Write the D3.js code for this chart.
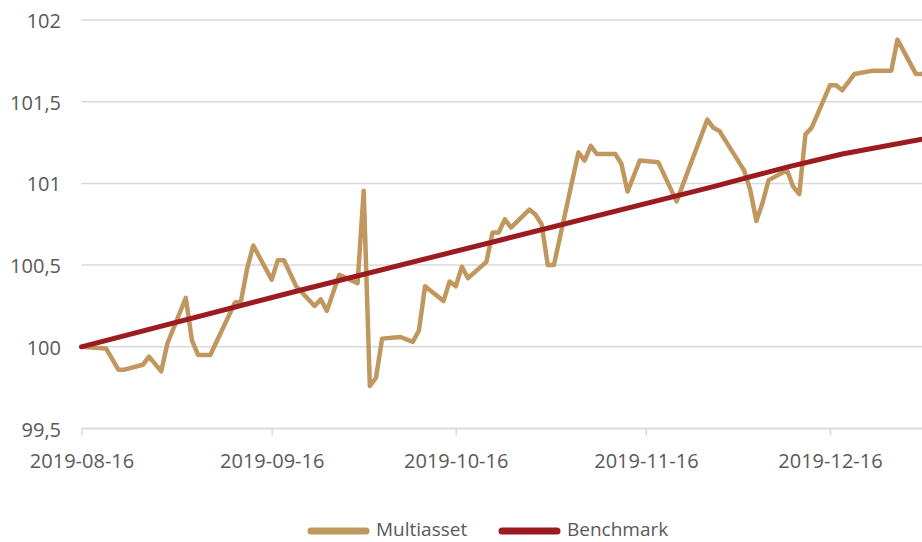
<!DOCTYPE html>
<html>
<head>
<meta charset="utf-8">
<script src="https://cdn.jsdelivr.net/npm/d3@7"></script>
<style>
    body { margin: 0; background: #fff; }
    svg { display: block; font-family: "Open Sans", sans-serif; }
</style>
</head>
<body>
<svg id="chart" width="922" height="542"></svg>
<script>
// data

let multiDates = ["2019-08-16", "2019-08-20", "2019-08-22", "2019-08-23", "2019-08-26", "2019-08-27",
    "2019-08-29", "2019-08-30", "2019-09-02", "2019-09-03", "2019-09-04", "2019-09-06", "2019-09-10",
    "2019-09-11", "2019-09-12", "2019-09-13", "2019-09-16", "2019-09-17", "2019-09-18", "2019-09-20",
    "2019-09-23", "2019-09-24", "2019-09-25", "2019-09-26", "2019-09-27", "2019-09-30", "2019-10-01",
    "2019-10-02", "2019-10-03", "2019-10-04", "2019-10-07", "2019-10-09", "2019-10-10", "2019-10-11",
    "2019-10-14", "2019-10-15", "2019-10-16", "2019-10-17", "2019-10-18", "2019-10-21", "2019-10-22",
    "2019-10-23", "2019-10-24", "2019-10-25", "2019-10-28", "2019-10-29", "2019-10-30", "2019-10-31",
    "2019-11-01", "2019-11-05", "2019-11-06", "2019-11-07", "2019-11-08", "2019-11-11", "2019-11-12",
    "2019-11-13", "2019-11-15", "2019-11-18", "2019-11-21", "2019-11-26", "2019-11-27", "2019-11-28",
    "2019-12-02", "2019-12-03", "2019-12-04", "2019-12-05", "2019-12-06", "2019-12-09", "2019-12-10",
    "2019-12-11", "2019-12-12", "2019-12-13", "2019-12-16", "2019-12-17", "2019-12-18", "2019-12-20",
    "2019-12-23", "2019-12-26", "2019-12-27", "2019-12-30", "2019-12-31"];

let multiValues = [100.00, 99.99, 99.86, 99.86, 99.89, 99.94,
    99.85, 100.02, 100.30, 100.04, 99.95, 99.95, 100.27,
    100.28, 100.48, 100.62, 100.41, 100.53, 100.53, 100.37,
    100.25, 100.29, 100.22, 100.33, 100.44, 100.39, 100.955,
    99.76, 99.81, 100.05, 100.06, 100.03, 100.10, 100.37,
    100.28, 100.40, 100.37, 100.49, 100.42, 100.52, 100.70,
    100.70, 100.78, 100.73, 100.84, 100.81, 100.75, 100.50,
    100.50, 101.19, 101.14, 101.23, 101.18, 101.18, 101.12,
    100.95, 101.14, 101.13, 100.89, 101.39, 101.34, 101.32,
    101.08, 100.96, 100.77, 100.88, 101.02, 101.08, 100.98,
    100.935, 101.30, 101.34, 101.60, 101.60, 101.57, 101.67,
    101.69, 101.69, 101.88, 101.67, 101.67];

let benchDates = ["2019-08-16", "2019-09-20", "2019-10-24", "2019-11-27", "2019-12-09", "2019-12-18", "2019-12-31"];
let benchValues = [100.00, 100.34, 100.66, 100.98, 101.10, 101.18, 101.27];

let yTicks = [99.5, 100, 100.5, 101, 101.5, 102];
let xTicks = ["2019-08-16", "2019-09-16", "2019-10-16", "2019-11-16", "2019-12-16"];

let seriesNames = ["Multiasset", "Benchmark"];
let seriesColors = ["#bf975f", "#9c1b21"];

// layout

let parseDate = d3.timeParse("%Y-%m-%d");
let svg = d3.select("#chart");
let plot = { left: 81.5, right: 922, top: 20, bottom: 428.5 };

let x = d3.scaleTime()
          .domain([parseDate("2019-08-16"), parseDate("2019-12-31")])
          .range([plot.left, plot.right]);

let y = d3.scaleLinear()
          .domain([99.5, 102])
          .range([plot.bottom, plot.top]);

let fmt = d => d3.format("")(d).replace(".", ",");

function drawGrid() {
    let grid = svg.append("g");

    grid.selectAll("line")
        .data(yTicks)
        .enter()
        .append("line")
        .attr("x1", plot.left)
        .attr("x2", plot.right)
        .attr("y1", d => y(d))
        .attr("y2", d => y(d))
        .style("stroke", "#d9d9d9")
        .style("stroke-width", 1.5);

    svg.append("g")
       .selectAll("text")
       .data(yTicks)
       .enter()
       .append("text")
       .attr("x", 61)
       .attr("y", d => y(d) + 8)
       .attr("text-anchor", "end")
       .style("font-size", "20px")
       .style("fill", "#595959")
       .text(fmt);
}

function drawXAxis() {
    let axis = svg.append("g")
                  .attr("transform", "translate(0," + plot.bottom + ")")
                  .call(d3.axisBottom(x)
                          .tickValues(xTicks.map(parseDate))
                          .tickSize(7)
                          .tickPadding(18)
                          .tickFormat(d3.timeFormat("%Y-%m-%d")));

    axis.select(".domain")
        .attr("d", "M" + plot.left + ",0H" + plot.right)
        .style("stroke", "#d9d9d9")
        .style("stroke-width", 1.5);
    axis.selectAll(".tick line")
        .style("stroke", "#d9d9d9")
        .style("stroke-width", 1.5);
    axis.selectAll(".tick text")
        .style("font-size", "20px")
        .style("font-family", "'Open Sans', sans-serif")
        .style("fill", "#595959");
}

function drawLine(dates, values, color, width) {
    let points = dates.map((d, i) => [parseDate(d), values[i]]);
    let line = d3.line()
                 .x(d => x(d[0]))
                 .y(d => y(d[1]));

    svg.append("path")
       .datum(points)
       .attr("d", line)
       .style("fill", "none")
       .style("stroke", color)
       .style("stroke-width", width)
       .style("stroke-linejoin", "round")
       .style("stroke-linecap", "round");
}

function drawLegend() {
    let items = [{ x: 311, name: seriesNames[0], color: seriesColors[0] },
                 { x: 502, name: seriesNames[1], color: seriesColors[1] }];

    let g = svg.append("g")
               .selectAll("g")
               .data(items)
               .enter()
               .append("g")
               .attr("transform", d => "translate(" + d.x + ",531)");

    g.append("line")
     .attr("x1", 0)
     .attr("x2", 55)
     .style("stroke", d => d.color)
     .style("stroke-width", 7)
     .style("stroke-linecap", "round");

    g.append("text")
     .attr("x", 65)
     .attr("y", 5)
     .style("font-size", "19px")
     .style("fill", "#595959")
     .text(d => d.name);
}

drawGrid();
drawXAxis();
drawLine(multiDates, multiValues, seriesColors[0], 4.5);
drawLine(benchDates, benchValues, seriesColors[1], 5);
drawLegend();
</script>
</body>
</html>
